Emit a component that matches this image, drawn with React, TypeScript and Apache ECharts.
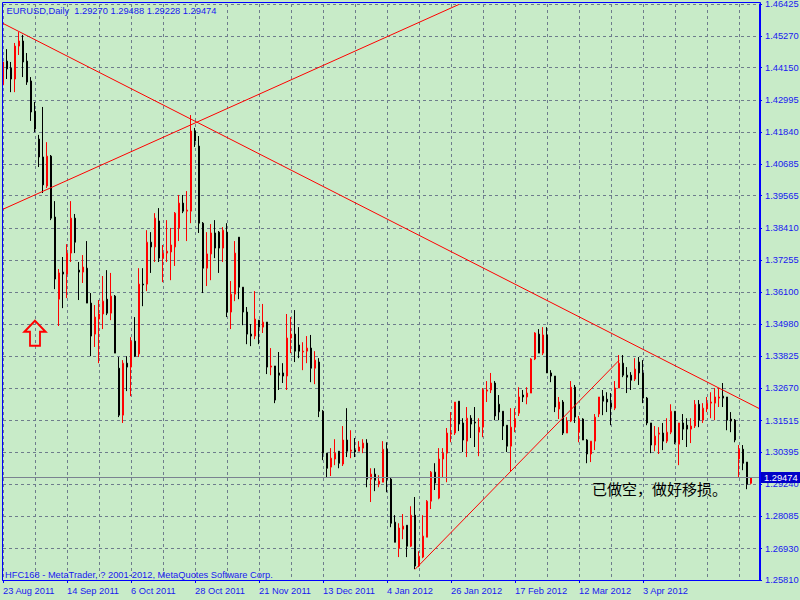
import { useEffect, useRef } from 'react';
import * as echarts from 'echarts';

// ---------- data ----------
const SYMBOL = 'EURUSD,Daily';
const START_DATE = '2011-08-23';
const PAD_BARS = 2;
const MONTHS = ['Jan', 'Feb', 'Mar', 'Apr', 'May', 'Jun', 'Jul', 'Aug', 'Sep', 'Oct', 'Nov', 'Dec'];

const open = [
  1.4353, 1.4438, 1.4413, 1.4374, 1.4492, 1.4510, 1.4438, 1.4367, 1.4259, 1.4159,
  1.4095, 1.3991, 1.4098, 1.3880, 1.3586, 1.3683, 1.3676, 1.3751, 1.3876, 1.3690,
  1.3683, 1.3697, 1.3572, 1.3461, 1.3515, 1.3533, 1.3586, 1.3536, 1.3597, 1.3339,
  1.3171, 1.3357, 1.3343, 1.3436, 1.3390, 1.3640, 1.3640, 1.3790, 1.3773, 1.3866,
  1.3733, 1.3751, 1.3755, 1.3773, 1.3841, 1.3930, 1.3901, 1.3901, 1.4188, 1.4134,
  1.3858, 1.3697, 1.3748, 1.3823, 1.3826, 1.3769, 1.3826, 1.3540, 1.3604, 1.3808,
  1.3629, 1.3540, 1.3461, 1.3454, 1.3511, 1.3486, 1.3504, 1.3343, 1.3347, 1.3322,
  1.3322, 1.3311, 1.3447, 1.3461, 1.3422, 1.3397, 1.3400, 1.3411, 1.3339, 1.3361,
  1.3185, 1.3035, 1.2985, 1.3014, 1.3042, 1.2996, 1.3082, 1.3042, 1.3046, 1.3042,
  1.3053, 1.3071, 1.2942, 1.2960, 1.2924, 1.2931, 1.3049, 1.2942, 1.2788, 1.2695,
  1.2763, 1.2777, 1.2702, 1.2813, 1.2631, 1.2663, 1.2734, 1.2863, 1.2967, 1.2874,
  1.3014, 1.3035, 1.3103, 1.3107, 1.3221, 1.3143, 1.3078, 1.3160, 1.3146, 1.3110,
  1.3128, 1.3257, 1.3261, 1.3286, 1.3210, 1.3185, 1.3135, 1.3060, 1.3128, 1.3178,
  1.3243, 1.3236, 1.3250, 1.3372, 1.3461, 1.3393, 1.3458, 1.3322, 1.3311, 1.3193,
  1.3218, 1.3107, 1.3150, 1.3271, 1.3110, 1.3157, 1.3082, 1.3032, 1.3078, 1.3175,
  1.3239, 1.3228, 1.3214, 1.3196, 1.3268, 1.3357, 1.3314, 1.3314, 1.3300, 1.3361,
  1.3322, 1.3232, 1.3143, 1.3064, 1.3103, 1.3107, 1.3078, 1.3110, 1.3185, 1.3067,
  1.3143, 1.3135, 1.3121, 1.3132, 1.3210, 1.3153, 1.3193, 1.3214, 1.3214, 1.3232,
  1.3239, 1.3236, 1.3157, 1.3153, 1.3014, 1.3049, 1.3003, 1.29270,
];

const close = [
  1.4435, 1.4410, 1.4374, 1.4492, 1.4510, 1.4435, 1.4363, 1.4256, 1.4195, 1.4095,
  1.3995, 1.4098, 1.3876, 1.3658, 1.3680, 1.3676, 1.3751, 1.3876, 1.3790, 1.3683,
  1.3701, 1.3572, 1.3454, 1.3522, 1.3533, 1.3579, 1.3536, 1.3597, 1.3393, 1.3171,
  1.3357, 1.3343, 1.3436, 1.3382, 1.3640, 1.3637, 1.3790, 1.3773, 1.3876, 1.3733,
  1.3751, 1.3758, 1.3780, 1.3894, 1.3930, 1.3901, 1.3905, 1.4188, 1.4152, 1.3858,
  1.3697, 1.3748, 1.3823, 1.3769, 1.3769, 1.3833, 1.3540, 1.3604, 1.3751, 1.3629,
  1.3540, 1.3461, 1.3454, 1.3515, 1.3486, 1.3504, 1.3343, 1.3347, 1.3225, 1.3314,
  1.3311, 1.3447, 1.3461, 1.3400, 1.3400, 1.3400, 1.3411, 1.3339, 1.3368, 1.3185,
  1.3035, 1.2981, 1.3017, 1.3035, 1.2999, 1.3082, 1.3042, 1.3046, 1.3039, 1.3057,
  1.3071, 1.2942, 1.2960, 1.2938, 1.2935, 1.3049, 1.2942, 1.2784, 1.2716, 1.2767,
  1.2774, 1.2702, 1.2813, 1.2631, 1.2666, 1.2738, 1.2863, 1.2967, 1.2928, 1.3014,
  1.3035, 1.3107, 1.3107, 1.3218, 1.3139, 1.3082, 1.3160, 1.3139, 1.3143, 1.3128,
  1.3261, 1.3261, 1.3286, 1.3168, 1.3182, 1.3132, 1.3060, 1.3128, 1.3157, 1.3236,
  1.3236, 1.3250, 1.3372, 1.3465, 1.3393, 1.3458, 1.3322, 1.3311, 1.3200, 1.3218,
  1.3107, 1.3150, 1.3271, 1.3164, 1.3157, 1.3082, 1.3032, 1.3078, 1.3164, 1.3236,
  1.3221, 1.3218, 1.3200, 1.3268, 1.3357, 1.3314, 1.3307, 1.3296, 1.3336, 1.3322,
  1.3232, 1.3143, 1.3064, 1.3096, 1.3107, 1.3078, 1.3110, 1.3185, 1.3074, 1.3143,
  1.3121, 1.3121, 1.3132, 1.3210, 1.3153, 1.3196, 1.3214, 1.3218, 1.3236, 1.3236,
  1.3232, 1.3153, 1.3150, 1.3082, 1.3049, 1.2999, 1.2924, 1.29474,
];

const low = [
  1.4342, 1.4374, 1.4327, 1.4327, 1.4460, 1.4381, 1.4353, 1.4224, 1.4184, 1.4059,
  1.3966, 1.3984, 1.3869, 1.3622, 1.3490, 1.3554, 1.3590, 1.3719, 1.3751, 1.3583,
  1.3644, 1.3572, 1.3382, 1.3415, 1.3357, 1.3479, 1.3529, 1.3511, 1.3393, 1.3164,
  1.3143, 1.3257, 1.3239, 1.3379, 1.3379, 1.3561, 1.3615, 1.3680, 1.3719, 1.3719,
  1.3647, 1.3719, 1.3654, 1.3705, 1.3794, 1.3894, 1.3794, 1.3858, 1.4131, 1.3823,
  1.3608, 1.3633, 1.3654, 1.3733, 1.3680, 1.3719, 1.3522, 1.3479, 1.3579, 1.3586,
  1.3493, 1.3425, 1.3418, 1.3443, 1.3425, 1.3465, 1.3318, 1.3314, 1.3214, 1.3261,
  1.3286, 1.3261, 1.3393, 1.3361, 1.3375, 1.3332, 1.3357, 1.3289, 1.3282, 1.3164,
  1.3010, 1.2946, 1.2953, 1.2992, 1.2981, 1.2989, 1.3021, 1.3017, 1.3021, 1.3042,
  1.3035, 1.2913, 1.2860, 1.2899, 1.2913, 1.2931, 1.2895, 1.2770, 1.2716, 1.2663,
  1.2727, 1.2663, 1.2699, 1.2620, 1.2627, 1.2659, 1.2734, 1.2835, 1.2903, 1.2870,
  1.2949, 1.2931, 1.3074, 1.3100, 1.3114, 1.3039, 1.3021, 1.3089, 1.3057, 1.3024,
  1.3092, 1.3218, 1.3250, 1.3153, 1.3153, 1.3082, 1.3039, 1.2971, 1.3110, 1.3168,
  1.3218, 1.3210, 1.3250, 1.3368, 1.3393, 1.3386, 1.3322, 1.3289, 1.3182, 1.3157,
  1.3100, 1.3107, 1.3146, 1.3143, 1.3074, 1.3082, 1.2999, 1.3003, 1.3046, 1.3164,
  1.3171, 1.3182, 1.3135, 1.3189, 1.3268, 1.3307, 1.3250, 1.3261, 1.3293, 1.3279,
  1.3214, 1.3135, 1.3035, 1.3042, 1.3032, 1.3046, 1.3071, 1.3103, 1.3067, 1.2992,
  1.3082, 1.3057, 1.3071, 1.3125, 1.3128, 1.3143, 1.3182, 1.3160, 1.3153, 1.3200,
  1.3200, 1.3117, 1.3110, 1.3074, 1.2949, 1.2974, 1.2906, 1.29228,
];

const high = [
  1.4499, 1.4481, 1.4435, 1.4503, 1.4542, 1.4532, 1.4467, 1.4381, 1.4292, 1.4174,
  1.4274, 1.4148, 1.4102, 1.3937, 1.3694, 1.3737, 1.3783, 1.3937, 1.3891, 1.3719,
  1.3744, 1.3794, 1.3608, 1.3565, 1.3583, 1.3669, 1.3690, 1.3680, 1.3601, 1.3379,
  1.3368, 1.3382, 1.3450, 1.3522, 1.3697, 1.3697, 1.3833, 1.3826, 1.3894, 1.3912,
  1.3780, 1.3869, 1.3841, 1.3898, 1.3959, 1.3959, 1.3973, 1.4245, 1.4199, 1.4170,
  1.3862, 1.3826, 1.3855, 1.3869, 1.3830, 1.3844, 1.3858, 1.3651, 1.3794, 1.3808,
  1.3629, 1.3558, 1.3497, 1.3615, 1.3511, 1.3569, 1.3504, 1.3411, 1.3347, 1.3397,
  1.3357, 1.3533, 1.3522, 1.3547, 1.3486, 1.3432, 1.3454, 1.3458, 1.3400, 1.3375,
  1.3189, 1.3035, 1.3053, 1.3085, 1.3042, 1.3132, 1.3196, 1.3117, 1.3089, 1.3078,
  1.3085, 1.3085, 1.2981, 1.2981, 1.2956, 1.3078, 1.3074, 1.2946, 1.2813, 1.2784,
  1.2817, 1.2777, 1.2845, 1.2878, 1.2684, 1.2813, 1.2867, 1.2971, 1.2999, 1.3053,
  1.3053, 1.3125, 1.3182, 1.3218, 1.3221, 1.3160, 1.3200, 1.3171, 1.3200, 1.3160,
  1.3268, 1.3293, 1.3322, 1.3293, 1.3243, 1.3185, 1.3135, 1.3196, 1.3196, 1.3271,
  1.3261, 1.3271, 1.3375, 1.3468, 1.3479, 1.3486, 1.3486, 1.3332, 1.3311, 1.3236,
  1.3225, 1.3164, 1.3293, 1.3279, 1.3168, 1.3160, 1.3085, 1.3078, 1.3175, 1.3236,
  1.3261, 1.3253, 1.3250, 1.3293, 1.3386, 1.3386, 1.3343, 1.3325, 1.3375, 1.3379,
  1.3368, 1.3236, 1.3143, 1.3132, 1.3128, 1.3143, 1.3160, 1.3210, 1.3185, 1.3143,
  1.3175, 1.3160, 1.3160, 1.3225, 1.3225, 1.3214, 1.3236, 1.3253, 1.3268, 1.3268,
  1.3286, 1.3236, 1.3182, 1.3157, 1.3064, 1.3064, 1.3003, 1.29488,
];

// price-axis tick labels, bottom to top
const yTickLabels = [
  '1.25810', '1.26930', '1.28085', '1.29240', '1.30395', '1.31515', '1.32670',
  '1.33825', '1.34980', '1.36100', '1.37255', '1.38410', '1.39565', '1.40685',
  '1.41840', '1.42995', '1.44150', '1.45270', '1.46425',
];

// trend lines: [fromBar, fromPrice, toBar, toPrice]
const trendLines = [
  [0, 1.4573, 189, 1.3195],
  [0, 1.3908, 114, 1.4641],
  [103, 1.2619, 154, 1.3367],
];

// up-arrow annotation: [bar, price]
const arrowMark = [8, 1.3464];

const noteText = '已做空，做好移损。';
const copyrightText = 'HFC168 - MetaTrader, ? 2001-2012, MetaQuotes Software Corp.';

// ---------- style ----------
const BG = '#C8EBC8';
const BLUE = '#0000FF';
const TEXT = '#1818F0';
const GRID = '#6E7C8C';
const BULL = '#FF0000';
const BEAR = '#000000';
const FONT = '"Liberation Sans", Arial, sans-serif';
const FS = 9.3;

function buildCategories(n: number): string[] {
  const out: string[] = [];
  const d = new Date(START_DATE + 'T00:00:00Z');
  while (out.length < n) {
    const wd = d.getUTCDay();
    if (wd !== 0 && wd !== 6) {
      out.push(`${d.getUTCDate()} ${MONTHS[d.getUTCMonth()]} ${d.getUTCFullYear()}`);
    }
    d.setUTCDate(d.getUTCDate() + 1);
  }
  for (let k = 0; k < PAD_BARS; k++) out.push(' '.repeat(k + 1));
  return out;
}

export default function App() {
  const ref = useRef<HTMLDivElement>(null);

  useEffect(() => {
    if (!ref.current) return;
    const chart = echarts.init(ref.current, null, { renderer: 'svg', width: 800, height: 600 });

    const categories = buildCategories(open.length);
    const candles = open.map((o, i) => [o, close[i], low[i], high[i]]);
    const last = open.length - 1;
    const yTicks = yTickLabels.map(Number);
    const title = `${SYMBOL}\u00a0 ${open[last].toFixed(5)} ${high[last].toFixed(5)} ${low[last].toFixed(5)} ${close[last].toFixed(5)}`;

    const lineData: any[] = trendLines.map((t) => [
      { coord: [t[0], t[1]], lineStyle: { color: BULL, width: 1, type: 'solid' } },
      { coord: [t[2], t[3]] },
    ]);
    lineData.push({
      yAxis: close[last],
      lineStyle: { color: '#7A8290', width: 1, type: 'solid' },
      label: {
        show: true,
        position: 'end',
        distance: 2,
        formatter: close[last].toFixed(5),
        color: '#FFFFFF',
        backgroundColor: '#0000C8',
        padding: [1, 3, 1, 3],
        fontFamily: FONT,
        fontSize: FS,
      },
    });

    const option: any = {
      animation: false,
      backgroundColor: BG,
      grid: { left: 3, right: 41, top: 4, bottom: 20, containLabel: false, outerBoundsMode: 'none' },
      xAxis: {
        type: 'category',
        data: categories,
        boundaryGap: false,
        axisLine: { show: true, lineStyle: { color: BLUE, width: 1 } },
        axisTick: { show: true, interval: 15, length: 3, lineStyle: { color: BLUE } },
        axisLabel: {
          interval: 15,
          align: 'left',
          margin: 6,
          color: TEXT,
          fontFamily: FONT,
          fontSize: FS,
          showMinLabel: true,
          showMaxLabel: false,
        },
        splitLine: { show: true, interval: 7, lineStyle: { color: GRID, width: 1, type: [3, 3] } },
      },
      yAxis: {
        type: 'value',
        position: 'right',
        min: yTicks[0],
        max: yTicks[yTicks.length - 1],
        axisLine: { show: true, lineStyle: { color: BLUE, width: 1 } },
        axisTick: { show: true, length: 3, customValues: yTicks, lineStyle: { color: BLUE } },
        axisLabel: {
          customValues: yTicks,
          formatter: (v: number) => v.toFixed(5),
          margin: 6,
          color: TEXT,
          fontFamily: FONT,
          fontSize: FS,
        },
        splitLine: { show: true, lineStyle: { color: GRID, width: 1, type: [3, 3] } },
      },
      series: [
        {
          type: 'candlestick',
          data: candles,
          barWidth: 2,
          clip: false,
          itemStyle: {
            color: BG,
            color0: BEAR,
            borderColor: BULL,
            borderColor0: BEAR,
            borderWidth: 1,
          },
          markLine: {
            silent: true,
            precision: 5,
            symbol: ['none', 'none'],
            label: { show: false },
            data: lineData,
          },
          markPoint: {
            silent: true,
            symbol: 'path://M10.5,0 L21,11 L15.5,11 L15.5,25 L5.5,25 L5.5,11 L0,11 Z',
            symbolSize: [21, 25],
            label: { show: false },
            itemStyle: { color: 'rgba(0,0,0,0)', borderColor: BULL, borderWidth: 2 },
            data: [{ coord: arrowMark }],
          },
        },
      ],
      graphic: [
        {
          type: 'rect',
          silent: true,
          z: 100,
          shape: { x: 2.5, y: 2.5, width: 758, height: 578 },
          style: { fill: 'none', stroke: BLUE, lineWidth: 1 },
        },
        {
          type: 'text',
          silent: true,
          z: 100,
          x: 6.6,
          y: 11,
          style: { text: title, fill: TEXT, font: `${FS}px ${FONT}`, verticalAlign: 'middle' },
        },
        {
          type: 'text',
          silent: true,
          z: 100,
          x: 5,
          y: 575,
          style: { text: copyrightText, fill: TEXT, font: `${FS}px ${FONT}`, verticalAlign: 'middle' },
        },
        {
          type: 'text',
          silent: true,
          z: 100,
          x: 592,
          y: 488,
          style: { text: noteText, fill: '#000000', font: '15px "Noto Sans CJK SC"', verticalAlign: 'middle' },
        },
      ],
    };

    chart.setOption(option);
    return () => chart.dispose();
  }, []);

  return <div ref={ref} style={{ position: 'absolute', left: 0, top: 0, width: 800, height: 600 }} />;
}
